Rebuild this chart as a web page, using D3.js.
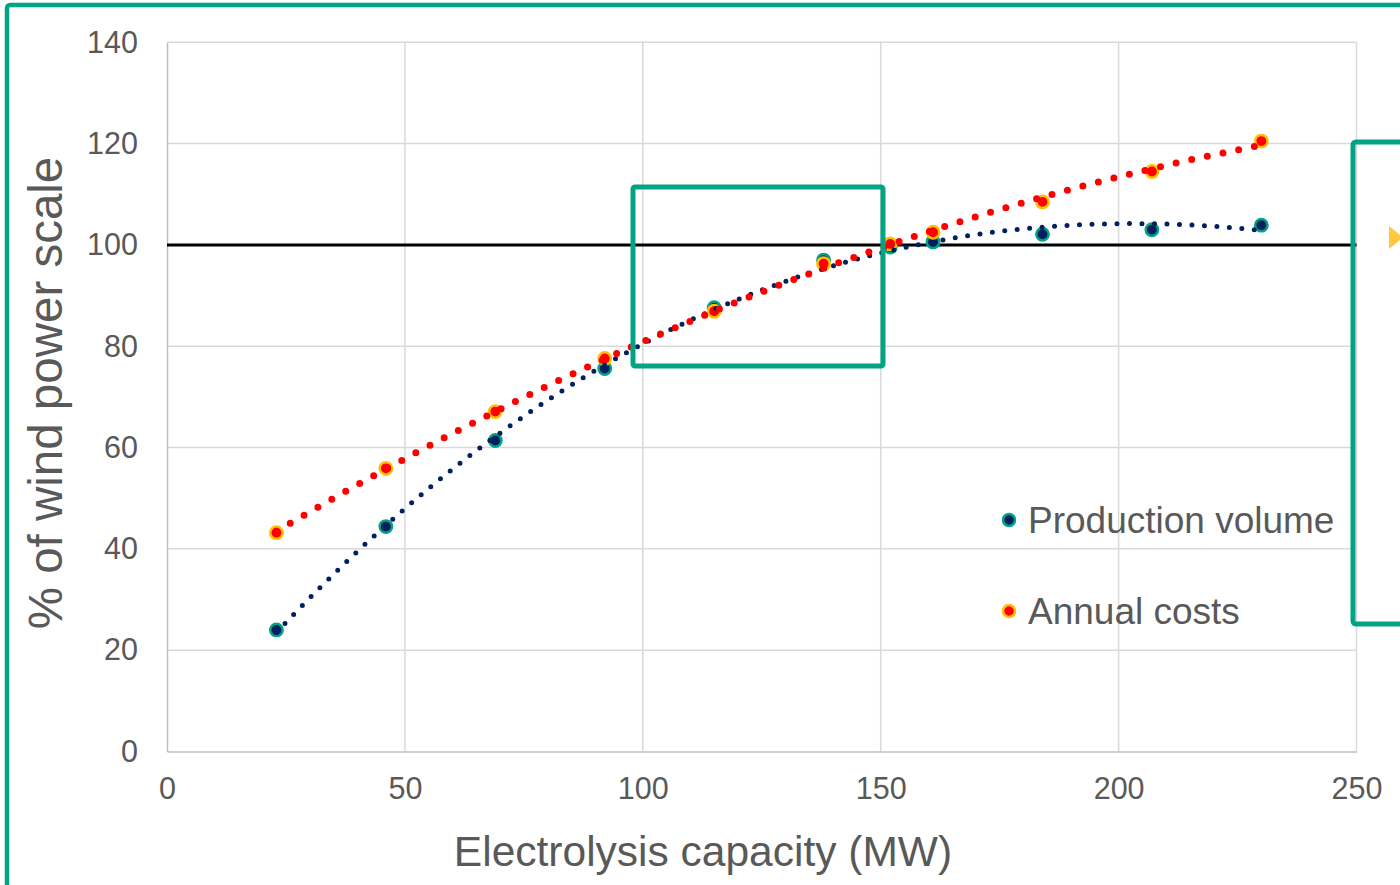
<!DOCTYPE html>
<html><head><meta charset="utf-8">
<script src="https://cdn.jsdelivr.net/npm/d3@7"></script>
<style>body{margin:0;background:#fff;}svg{display:block;font-family:"Liberation Sans",Arial,sans-serif;}</style>
</head><body><svg id="c" width="1400" height="885"></svg>
<script>
const capacity = [23, 46, 69, 92, 115, 138, 152, 161, 184, 207, 230];
const production = [24.0, 44.4, 61.4, 75.6, 87.6, 97.0, 99.6, 100.6, 102.1, 103.0, 103.9];
const costs = [43.2, 55.9, 67.1, 77.6, 86.9, 96.3, 100.2, 102.5, 108.5, 114.5, 120.5];
const xTicks = [0, 50, 100, 150, 200, 250];
const yTicks = [0, 20, 40, 60, 80, 100, 120, 140];
const seriesNames = ["Production volume", "Annual costs"];

const svg = d3.select("#c");
const teal = "#00a383";
const x = d3.scaleLinear().domain([0, 250]).range([167, 1356.5]);
const y = d3.scaleLinear().domain([0, 140]).range([751.5, 42.3]);

// outer frame
svg.append("rect").attr("x", 7).attr("y", 5).attr("width", 1500).attr("height", 1000)
  .attr("rx", 3).attr("fill", "none").attr("stroke", teal).attr("stroke-width", 4.5);

// gridlines
svg.append("g").selectAll("line").data(yTicks.slice(1)).join("line")
  .attr("x1", x(0)).attr("x2", x(250)).attr("y1", d => y(d)).attr("y2", d => y(d))
  .attr("stroke", "#d9d9d9").attr("stroke-width", 1.5);
svg.append("g").selectAll("line").data(xTicks.slice(1)).join("line")
  .attr("y1", y(0)).attr("y2", y(140)).attr("x1", d => x(d)).attr("x2", d => x(d))
  .attr("stroke", "#d9d9d9").attr("stroke-width", 1.5);

// axes
const xAxis = svg.append("g").attr("transform", `translate(0,${y(0)})`)
  .call(d3.axisBottom(x).tickValues(xTicks).tickSize(0).tickPadding(26));
xAxis.select(".domain").attr("stroke", "#bfbfbf").attr("stroke-width", 1.5);
xAxis.selectAll("text").attr("font-size", 30.5).attr("fill", "#595959").attr("font-family", "Liberation Sans, Arial, sans-serif");
const yAxis = svg.append("g").attr("transform", `translate(${x(0)},0)`)
  .call(d3.axisLeft(y).tickValues(yTicks).tickSize(0).tickPadding(29));
yAxis.select(".domain").attr("stroke", "#bfbfbf").attr("stroke-width", 1.5);
yAxis.selectAll("text").attr("font-size", 30.5).attr("fill", "#595959").attr("font-family", "Liberation Sans, Arial, sans-serif");

// reference line at 100
svg.append("line").attr("x1", x(0)).attr("x2", x(250)).attr("y1", y(100)).attr("y2", y(100))
  .attr("stroke", "#000").attr("stroke-width", 3);

// axis titles
svg.append("text").attr("x", 703).attr("y", 866).attr("text-anchor", "middle")
  .attr("font-size", 42.5).attr("fill", "#595959").text("Electrolysis capacity (MW)");
svg.append("text").attr("transform", "translate(62,393) rotate(-90)").attr("text-anchor", "middle")
  .attr("font-size", 47.5).attr("fill", "#595959").text("% of wind power scale");

// polynomial trendline fit
function polyfit(xs, ys, order) {
  const n = order + 1;
  const A = Array.from({length: n}, () => new Array(n + 1).fill(0));
  xs.forEach((xv, k) => {
    for (let i = 0; i < n; i++) {
      for (let j = 0; j < n; j++) A[i][j] += Math.pow(xv, i + j);
      A[i][n] += ys[k] * Math.pow(xv, i);
    }
  });
  for (let i = 0; i < n; i++) {
    let p = i;
    for (let r = i + 1; r < n; r++) if (Math.abs(A[r][i]) > Math.abs(A[p][i])) p = r;
    [A[i], A[p]] = [A[p], A[i]];
    for (let r = 0; r < n; r++) {
      if (r === i) continue;
      const f = A[r][i] / A[i][i];
      for (let c = i; c <= n; c++) A[r][c] -= f * A[i][c];
    }
  }
  const coef = A.map((row, i) => row[n] / row[i]);
  return xv => coef.reduce((s, c, i) => s + c * Math.pow(xv, i), 0);
}
const line = d3.line().x(d => x(d[0])).y(d => y(d[1])).curve(d3.curveLinear);
const xmin = d3.min(capacity), xmax = d3.max(capacity);
const samples = d3.range(xmin, xmax + 0.001, 0.5);

// markers
function markers(vals, fill, stroke) {
  svg.append("g").selectAll("circle").data(capacity).join("circle")
    .attr("cx", d => x(d)).attr("cy", (d, i) => y(vals[i])).attr("r", 6.2)
    .attr("fill", fill).attr("stroke", stroke).attr("stroke-width", 2.5);
}
markers(production, "#002060", teal);
markers(costs, "#ff0000", "#ffc000");

const fP = polyfit(capacity, production, 3);
const fC = polyfit(capacity, costs, 2);
svg.append("path").attr("d", line(samples.map(v => [v, fP(v)])))
  .attr("fill", "none").attr("stroke", "#002060").attr("stroke-width", 5)
  .attr("stroke-linecap", "round").attr("stroke-dasharray", "0 12.5");
svg.append("path").attr("d", line(samples.map(v => [v, fC(v)])))
  .attr("fill", "none").attr("stroke", "#ff0000").attr("stroke-width", 7)
  .attr("stroke-linecap", "round").attr("stroke-dasharray", "0 16");

// legend
const leg = svg.append("g");
const legCols = [["#002060", teal], ["#ff0000", "#ffc000"]];
seriesNames.forEach((name, i) => {
  const ly = 520 + i * 91;
  leg.append("circle").attr("cx", 1009).attr("cy", ly).attr("r", 6)
    .attr("fill", legCols[i][0]).attr("stroke", legCols[i][1]).attr("stroke-width", 2.5);
  leg.append("text").attr("x", 1028).attr("y", ly + 13).attr("font-size", 37)
    .attr("fill", "#595959").text(name);
});

// highlight boxes
svg.append("rect").attr("x", 633).attr("y", 187).attr("width", 250).attr("height", 179)
  .attr("rx", 2).attr("fill", "none").attr("stroke", teal).attr("stroke-width", 5);
svg.append("rect").attr("x", 1353).attr("y", 142).attr("width", 200).attr("height", 482)
  .attr("rx", 3).attr("fill", "none").attr("stroke", teal).attr("stroke-width", 5);
svg.append("path").attr("d", "M1389,226 L1403,237.5 L1389,249 Z").attr("fill", "#ffc83d");
</script></body></html>
